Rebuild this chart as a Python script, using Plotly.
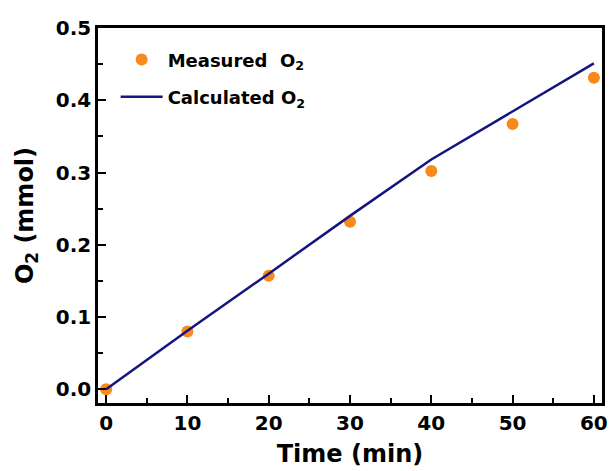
import plotly.graph_objects as go

time_measured = [0, 10, 20, 30, 40, 50, 60]
o2_measured = [0.0, 0.080, 0.157, 0.232, 0.302, 0.367, 0.431]

time_calc = [0, 10, 20, 30, 40, 50, 60]
o2_calc = [0.0, 0.081, 0.160, 0.240, 0.318, 0.385, 0.451]

x_ticks = [0, 10, 20, 30, 40, 50, 60]
y_ticks = [0.0, 0.1, 0.2, 0.3, 0.4, 0.5]

FONT = "DejaVu Sans, Arial, sans-serif"

fig = go.Figure()
fig.add_trace(go.Scatter(
    x=time_measured, y=o2_measured, mode="markers",
    name="Measured  O<sub>2</sub>", legend="legend", showlegend=True,
    marker=dict(color="#F8891C", size=12, line=dict(width=0)),
))
fig.add_trace(go.Scatter(
    x=time_calc, y=o2_calc, mode="lines",
    name="Calculated O<sub>2</sub>", legend="legend2", showlegend=True,
    line=dict(color="#15157F", width=2.5),
))

axis_common = dict(
    showline=True, linecolor="black", linewidth=2.5, mirror=True,
    ticks="inside", ticklen=8, tickwidth=2, tickcolor="black",
    showgrid=False, zeroline=False, automargin=False,
    tickfont=dict(family=FONT, size=20, color="black", weight="bold"),
)

fig.update_xaxes(
    range=[-1, 61], tickvals=x_ticks,
    ticktext=[str(v) for v in x_ticks],
    minor=dict(dtick=5, tick0=0, ticks="inside", ticklen=5, tickwidth=2, tickcolor="black"),
    title=dict(text="Time (min)", font=dict(family=FONT, size=24, color="black", weight="bold"), standoff=12),
    **axis_common,
)
fig.update_yaxes(
    range=[-0.019, 0.5], tickvals=y_ticks,
    ticktext=[f"{v:.1f}" for v in y_ticks],
    minor=dict(dtick=0.05, tick0=0, ticks="inside", ticklen=5, tickwidth=2, tickcolor="black"),
    title=dict(text="O<sub>2</sub> (mmol)", font=dict(family=FONT, size=24, color="black", weight="bold"), standoff=16),
    **axis_common,
)

legend_style = dict(
    xanchor="left", yanchor="middle",
    bgcolor="rgba(0,0,0,0)",
    font=dict(family=FONT, size=18, color="black", weight="bold"),
    itemwidth=42,
)

fig.update_layout(
    width=611, height=471,
    margin=dict(l=98, r=9, t=28, b=68, autoexpand=False),
    plot_bgcolor="white", paper_bgcolor="white",
    showlegend=True,
    legend=dict(x=0.035, y=0.915, visible=True, **legend_style),
    legend2=dict(x=0.035, y=0.816, visible=True, **legend_style),
)

fig.write_html("out.html")
